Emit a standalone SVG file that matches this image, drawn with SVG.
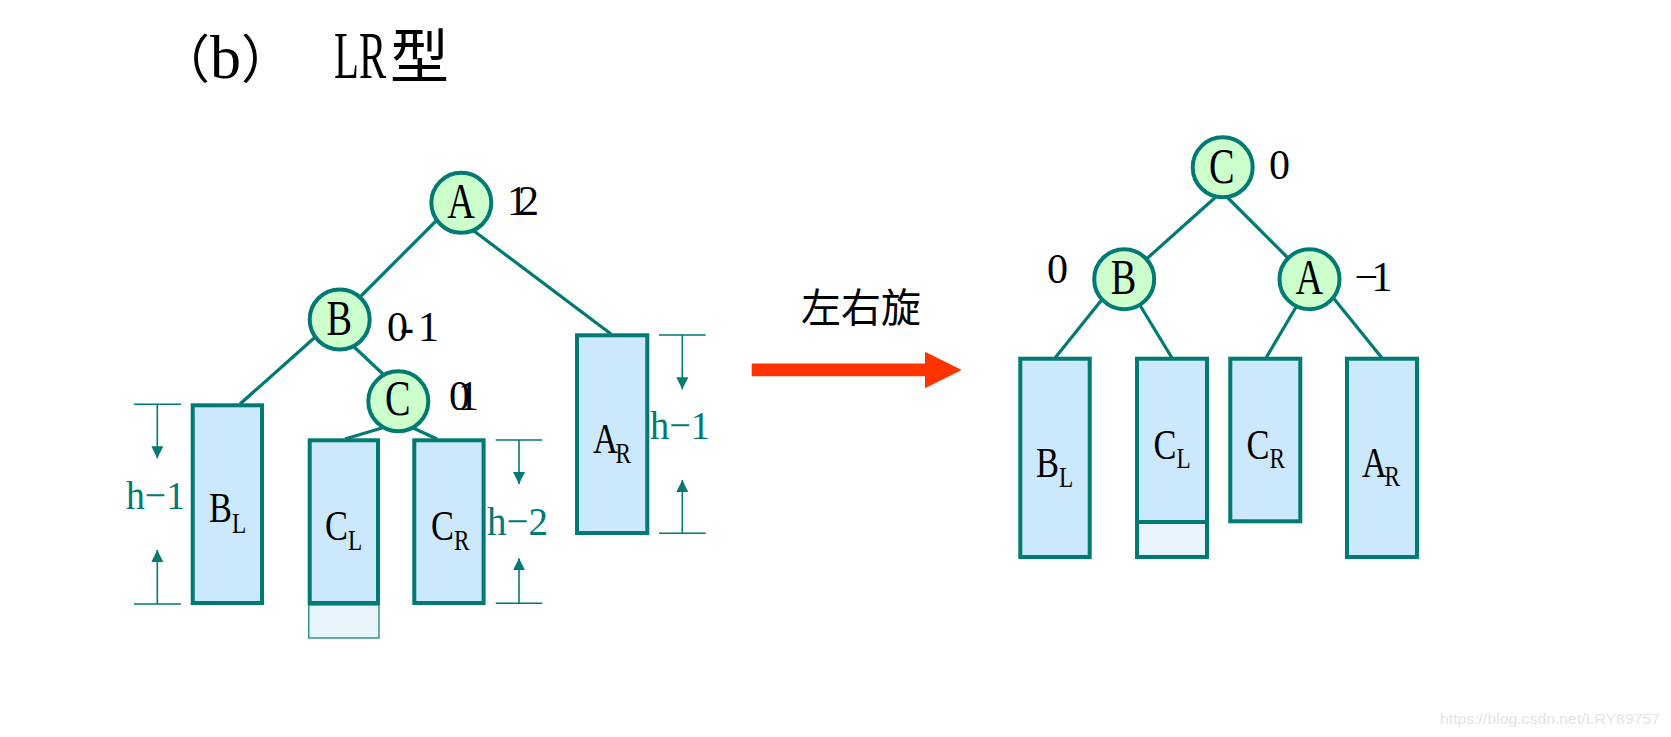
<svg xmlns="http://www.w3.org/2000/svg" width="1671" height="737" viewBox="0 0 1671 737">
<style>
.edge{stroke:#007A72;stroke-width:3.2;fill:none}
.nc{fill:#CCFFCC;stroke:#007A72;stroke-width:4}
.tr{fill:#CCE8FC;stroke:#007A72;stroke-width:4}
.ext{fill:#E8F5FD;stroke:#007A72;stroke-width:1.2}
.ext2{fill:#E8F5FD;stroke:#007A72;stroke-width:4}
.dim{stroke:#007A72;stroke-width:1.6;fill:none}
.darr{stroke:#007A72;stroke-width:1.6;fill:none;marker-end:url(#tri)}
.nl{font-family:"Liberation Serif",serif;font-size:51px;fill:#000;text-anchor:middle}
.sl{font-family:"Liberation Serif",serif;font-size:43px;fill:#000}
.sub{font-size:29px}
.bl{font-family:"Liberation Serif",serif;font-size:42px;fill:#000}
.ht{font-family:"Liberation Serif",serif;font-size:41px;fill:#007A72}
.ttl{font-family:"Liberation Serif","Noto Sans CJK SC",serif;fill:#000}
</style>
<defs>
<marker id="tri" viewBox="0 0 12 12" refX="12" refY="6" markerWidth="12" markerHeight="12" markerUnits="userSpaceOnUse" orient="auto">
<path d="M0,0 L12,6 L0,12 z" fill="#007A72"/>
</marker>
</defs>
<rect width="1671" height="737" fill="#fff"/>

<g id="title">
<text class="ttl" x="158" y="78"><tspan font-size="52" font-family="'Noto Sans CJK SC',sans-serif">（</tspan><tspan font-size="62">b</tspan><tspan font-size="52" font-family="'Noto Sans CJK SC',sans-serif">）</tspan></text>
<text class="ttl" font-size="68" transform="translate(334,78) scale(0.6,1)">LR</text>
<text class="ttl" x="390" y="78" font-size="59" font-family="'Noto Sans CJK SC',sans-serif">型</text>
</g>

<g id="connectors">
<line class="edge" x1="440" y1="217" x2="354" y2="303"/>
<line class="edge" x1="470" y1="228" x2="611" y2="334"/>
<line class="edge" x1="322" y1="331" x2="240" y2="404"/>
<line class="edge" x1="352" y1="345" x2="384" y2="375"/>
<line class="edge" x1="382" y1="428" x2="345" y2="439"/>
<line class="edge" x1="411" y1="427" x2="437" y2="439"/>
<line class="edge" x1="1218" y1="195" x2="1142" y2="263"/>
<line class="edge" x1="1226" y1="196" x2="1293" y2="263"/>
<line class="edge" x1="1104" y1="297" x2="1055" y2="358"/>
<line class="edge" x1="1135" y1="297" x2="1172" y2="358"/>
<line class="edge" x1="1302" y1="297" x2="1266" y2="358"/>
<line class="edge" x1="1331" y1="295" x2="1382" y2="358"/>
</g>

<g id="dims">
<line class="dim" x1="134" y1="404.3" x2="181" y2="404.3"/>
<line class="dim" x1="134" y1="604" x2="181" y2="604"/>
<line class="darr" x1="157.3" y1="404.3" x2="157.3" y2="458.3"/>
<line class="darr" x1="157.3" y1="604" x2="157.3" y2="550"/>
<text class="ht" x="126" y="509" textLength="59" lengthAdjust="spacingAndGlyphs">h−1</text>
<line class="dim" x1="495.7" y1="440" x2="542.3" y2="440"/>
<line class="dim" x1="495.7" y1="603.3" x2="542.3" y2="603.3"/>
<line class="darr" x1="519" y1="440" x2="519" y2="484"/>
<line class="darr" x1="519" y1="603.3" x2="519" y2="558.3"/>
<text class="ht" x="487" y="535" textLength="61" lengthAdjust="spacingAndGlyphs">h−2</text>
<line class="dim" x1="659" y1="335" x2="705.7" y2="335"/>
<line class="dim" x1="659" y1="533.3" x2="705.7" y2="533.3"/>
<line class="darr" x1="682.3" y1="335" x2="682.3" y2="389.3"/>
<line class="darr" x1="682.3" y1="533.3" x2="682.3" y2="480"/>
<text class="ht" x="650" y="439" textLength="60" lengthAdjust="spacingAndGlyphs">h−1</text>
</g>

<g id="left-BL">
<rect class="tr" x="192.7" y="405.3" width="69.3" height="197.7"/>
<text class="sl" transform="translate(209,521.7) scale(0.8,1)">B<tspan class="sub" dy="11">L</tspan></text>
</g>
<g id="left-CL">
<rect class="ext" x="308.8" y="605" width="70.2" height="33"/>
<rect class="tr" x="309.7" y="440.3" width="68.3" height="162.7"/>
<text class="sl" transform="translate(325,540) scale(0.8,1)">C<tspan class="sub" dy="10">L</tspan></text>
</g>
<g id="left-CR">
<rect class="tr" x="414.3" y="440.3" width="69.3" height="162.7"/>
<text class="sl" transform="translate(431,540) scale(0.8,1)">C<tspan class="sub" dy="10">R</tspan></text>
</g>
<g id="left-AR">
<rect class="tr" x="577" y="335.3" width="70.3" height="197.7"/>
<text class="sl" transform="translate(593,453) scale(0.8,1)">A<tspan class="sub" dy="10" dx="-3">R</tspan></text>
</g>

<g id="left-A">
<circle class="nc" cx="461.3" cy="202.8" r="30"/>
<text class="nl" transform="translate(461,218.3) scale(0.75,1)">A</text>
<text class="bl" x="507" y="215" letter-spacing="-10">12</text>
</g>
<g id="left-B">
<circle class="nc" cx="339.7" cy="319.5" r="30"/>
<text class="nl" transform="translate(339.3,335) scale(0.75,1)">B</text>
<text class="bl" x="387" y="340.7" dx="0 -8 4">0-1</text>
</g>
<g id="left-C">
<circle class="nc" cx="398.3" cy="401.3" r="30"/>
<text class="nl" transform="translate(397.7,415) scale(0.75,1)">C</text>
<text class="bl" x="449" y="410" dx="0 -12">01</text>
</g>

<g id="rotate-arrow">
<path d="M751.7,363.4 H925 V351.7 L961.7,370 L925,388.3 V376.2 H751.7 Z" fill="#FF3300"/>
<text x="801" y="322" font-family="'Noto Sans CJK SC',sans-serif" font-size="40" fill="#000">左右旋</text>
</g>

<g id="right-BL">
<rect class="tr" x="1020.3" y="358.7" width="69.4" height="198.3"/>
<text class="sl" transform="translate(1036,476.7) scale(0.8,1)">B<tspan class="sub" dy="10">L</tspan></text>
</g>
<g id="right-CL">
<rect class="ext2" x="1137" y="522" width="70" height="35"/>
<rect class="tr" x="1137" y="358.7" width="70" height="163.3"/>
<text class="sl" transform="translate(1153.5,459.3) scale(0.8,1)">C<tspan class="sub" dy="9">L</tspan></text>
</g>
<g id="right-CR">
<rect class="tr" x="1230.3" y="358.7" width="70" height="162.6"/>
<text class="sl" transform="translate(1246.5,459.3) scale(0.8,1)">C<tspan class="sub" dy="9">R</tspan></text>
</g>
<g id="right-AR">
<rect class="tr" x="1347" y="358.7" width="70" height="198.3"/>
<text class="sl" transform="translate(1362,476.7) scale(0.8,1)">A<tspan class="sub" dy="9.5" dx="-3">R</tspan></text>
</g>

<g id="right-C">
<circle class="nc" cx="1222.7" cy="167.3" r="30"/>
<text class="nl" transform="translate(1221.7,183) scale(0.75,1)">C</text>
<text class="bl" x="1269" y="179">0</text>
</g>
<g id="right-B">
<circle class="nc" cx="1124.2" cy="279.2" r="30"/>
<text class="nl" transform="translate(1123.5,293.5) scale(0.75,1)">B</text>
<text class="bl" x="1047" y="283">0</text>
</g>
<g id="right-A">
<circle class="nc" cx="1309.5" cy="279.2" r="30"/>
<text class="nl" transform="translate(1309.3,293.5) scale(0.75,1)">A</text>
<text class="bl" x="1354.6" y="290.7" dx="0 -6.8">−1</text>
</g>

<g id="watermark">
<text x="1440" y="724" font-family="'Liberation Sans',sans-serif" font-size="15.5" fill="#E4E4E4" textLength="220" lengthAdjust="spacingAndGlyphs">https://blog.csdn.net/LRY89757</text>
</g>
</svg>
